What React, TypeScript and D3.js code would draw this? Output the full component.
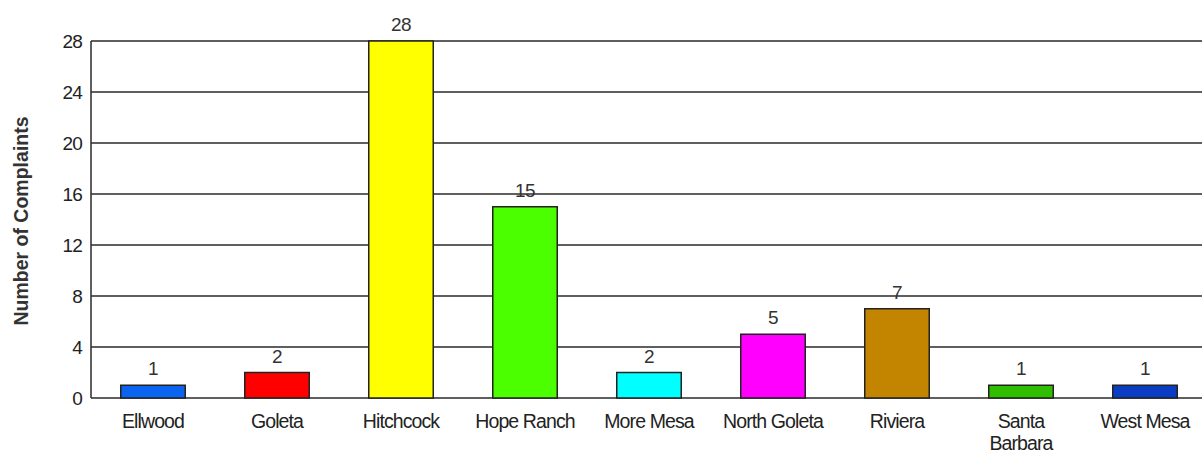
import React from "react";
import * as d3 from "d3";

const categories = ["Ellwood", "Goleta", "Hitchcock", "Hope Ranch", "More Mesa", "North Goleta", "Riviera", "Santa Barbara", "West Mesa"];
const values = [1, 2, 28, 15, 2, 5, 7, 1, 1];
const colors = ["#0a64f0", "#ff0000", "#ffff00", "#4cff00", "#00ffff", "#ff00ff", "#c38500", "#2fbf00", "#0a3cc4"];
const yTicks = [0, 4, 8, 12, 16, 20, 24, 28];
const labelLines: Record<string, string[]> = { "Santa Barbara": ["Santa", "Barbara"] };

const W = 1202, H = 453;
const left = 91, right = 1207, top = 41, bottom = 398;

export default function App() {
  const x = d3.scaleBand<string>().domain(categories).range([left, right]).paddingInner(0.48).paddingOuter(0.24);
  const y = d3.scaleLinear().domain([0, 28]).range([bottom, top]);
  const font = "'Liberation Sans', Arial, sans-serif";
  return (
    <svg width={W} height={H} style={{ position: "absolute", left: 0, top: 0 }} fontFamily={font}>
      <rect width={W} height={H} fill="#fff" />
      {yTicks.map((t) => (
        <g key={t}>
          <line x1={left} x2={W} y1={y(t)} y2={y(t)} stroke="#2a2a2a" strokeWidth={1.5} />
          <text x={82} y={y(t)} dy="0.35em" textAnchor="end" fontSize={19} fill="#222" letterSpacing={-0.8}>{t}</text>
        </g>
      ))}
      <line x1={left} x2={left} y1={top} y2={bottom} stroke="#2a2a2a" strokeWidth={1.5} />
      {categories.map((c, i) => {
        const bx = x(c)!;
        const bw = x.bandwidth();
        const lines = labelLines[c] || [c];
        return (
          <g key={c}>
            <rect x={bx} y={y(values[i])} width={bw} height={bottom - y(values[i])} fill={colors[i]} stroke="#222" strokeWidth={1.5} />
            <text x={bx + bw / 2} y={y(values[i]) - 10} textAnchor="middle" fontSize={19} fill="#333" letterSpacing={-0.5}>{values[i]}</text>
            {lines.map((l, j) => (
              <text key={j} x={bx + bw / 2} y={428 + j * 22} textAnchor="middle" fontSize={19.5} fill="#222" letterSpacing={-0.9}>{l}</text>
            ))}
          </g>
        );
      })}
      <text transform={`translate(28,${221}) rotate(-90)`} textAnchor="middle" fontSize={19.5} fontWeight="bold" fill="#333">Number of Complaints</text>
    </svg>
  );
}
